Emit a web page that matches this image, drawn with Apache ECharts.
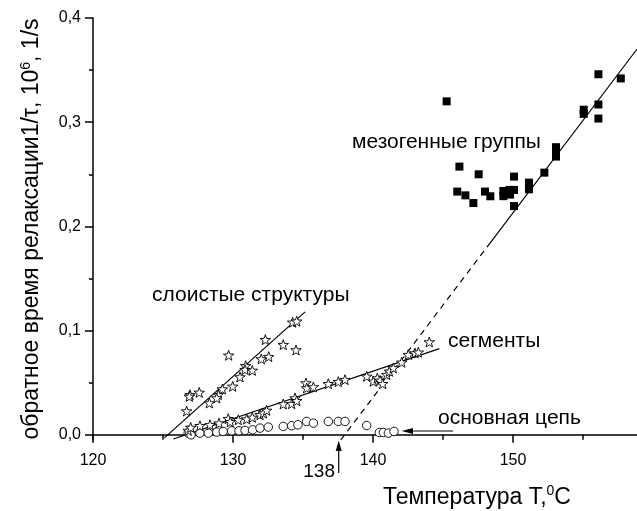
<!DOCTYPE html>
<html>
<head>
<meta charset="utf-8">
<script src="https://cdn.jsdelivr.net/npm/echarts@6/dist/echarts.min.js"></script>
<style>
  html, body { margin: 0; padding: 0; background: #fff; }
  #chart { width: 637px; height: 511px; }
</style>
</head>
<body>
<div id="chart"></div>
<script>
// мезогенные группы (filled squares)
const mesoT = [145.26, 156.1, 157.7, 156.1, 155.05, 155.05, 156.1, 153.07, 153.07, 153.07,
  152.24, 151.14, 151.14, 150.07, 150.07, 150.07, 149.79, 149.31, 149.31, 146.17,
  147.55, 146.02, 146.6, 147.17, 148.0, 148.38, 149.75]
const mesoV = [0.320, 0.346, 0.342, 0.317, 0.312, 0.308, 0.3035, 0.276, 0.271, 0.267,
  0.2516, 0.242, 0.2356, 0.2478, 0.235, 0.2195, 0.2305, 0.234, 0.229, 0.2574,
  0.250, 0.2334, 0.2298, 0.2224, 0.2334, 0.2289, 0.235]

// слоистые структуры (stars, steep branch)
const layerT = [134.26, 134.55, 132.31, 133.59, 134.5, 129.69, 132.02, 132.55, 130.9, 130.86,
  131.38, 130.5, 129.98, 129.24, 128.95, 128.84, 128.31, 126.93, 126.88, 127.59, 126.69]
const layerV = [0.108, 0.109, 0.0913, 0.0865, 0.0814, 0.0763, 0.0728, 0.075, 0.0663, 0.0625,
  0.0618, 0.0555, 0.0465, 0.0439, 0.0385, 0.0353, 0.0305, 0.0385, 0.0368, 0.0407, 0.0228]

// сегменты (stars, shallow branch)
const segT = [126.8, 126.98, 127.64, 128.36, 129.0, 129.66, 129.8, 130.38, 130.98, 131.38,
  131.93, 132.17, 132.4, 133.59, 134.19, 134.43, 134.55, 135.21, 135.26, 135.74,
  136.81, 137.52, 138.0, 139.55, 140.02, 140.31, 140.5, 140.69, 140.98, 141.17,
  141.45, 142.05, 142.52, 143.0, 143.24, 144.02]
const segV = [0.0041, 0.007, 0.0087, 0.0096, 0.0112, 0.0154, 0.0125, 0.0144, 0.0151, 0.0167,
  0.0192, 0.0208, 0.0234, 0.0295, 0.0298, 0.0353, 0.0327, 0.0497, 0.0449, 0.0459,
  0.049, 0.051, 0.0529, 0.0561, 0.0513, 0.0545, 0.0522, 0.049, 0.0577, 0.0609,
  0.0641, 0.0696, 0.0769, 0.0785, 0.0792, 0.0891]

// основная цепь (open circles)
const chainT = [126.8, 127.0, 127.64, 128.24, 128.84, 129.3, 129.9, 130.43, 130.86, 131.4,
  131.93, 132.52, 133.59, 134.19, 134.64, 135.26, 135.74, 136.81, 137.52, 138.0,
  139.55, 140.45, 140.74, 141.1, 141.5]
const chainV = [0.0016, 0.0, 0.0016, 0.0016, 0.0026, 0.0032, 0.0038, 0.0038, 0.0042, 0.0048,
  0.0064, 0.0074, 0.008, 0.0087, 0.0096, 0.0128, 0.0112, 0.0128, 0.0128, 0.0128,
  0.0089, 0.0022, 0.0022, 0.0016, 0.0032]

// fit lines (end points)
const layerFitT = [125.1, 135.15]
const layerFitV = [-0.003, 0.118]
const segFitT = [125.74, 144.74]
const segFitV = [-0.004, 0.0827]
const mesoDashT = [137.7, 148.36]
const mesoDashV = [-0.005, 0.184]
const mesoFitT = [148.36, 158.85]
const mesoFitV = [0.184, 0.370]

const xMajor = [120, 130, 140, 150]
const xMinor = [125, 135, 145, 155]
const yMajor = [0, 0.1, 0.2, 0.3, 0.4]
const yMinor = [0.05, 0.15, 0.25, 0.35]

const pairs = (a, b) => a.map((t, i) => [t, b[i]])

const FONT = 'Liberation Sans, Arial, sans-serif'
const STAR = 'path://M0,-10L2.35,-3.24L9.51,-3.09L3.8,1.24L5.88,8.09L0,4.2L-5.88,8.09L-3.8,1.24L-9.51,-3.09L-2.35,-3.24Z'

const myChart = echarts.init(document.getElementById('chart'))

const xBase = {
  type: 'value', min: 120, max: 158.857, position: 'bottom',
  splitLine: { show: false }
}
const yBase = {
  type: 'value', min: -0.005, max: 0.4, position: 'left',
  splitLine: { show: false }
}

function fitLine (t, v, dashed) {
  return {
    type: 'line', data: pairs(t, v), symbol: 'none', silent: true, z: 1,
    lineStyle: { color: '#000', width: 1.2, type: dashed ? [6, 5] : 'solid' }
  }
}

function marks (t, v, symbol, size, fill) {
  return {
    type: 'scatter', data: pairs(t, v), symbol: symbol, symbolSize: size, symbolKeepAspect: true, z: 3,
    itemStyle: { color: fill, borderColor: '#000', borderWidth: fill === '#000' ? 0 : 0.9, opacity: 1 }
  }
}

function label (text, x, y, size) {
  return {
    type: 'text', x: x, y: y,
    style: { text: text, font: size + 'px ' + FONT, fill: '#000', align: 'left', verticalAlign: 'middle' }
  }
}

myChart.setOption({
  animation: false,
  backgroundColor: '#fff',
  grid: { left: 93, right: 0, top: 18, bottom: 71 },
  xAxis: [
    Object.assign({}, xBase, {
      axisLine: { lineStyle: { color: '#000', width: 1.5 } },
      axisTick: { customValues: xMajor, length: 8, lineStyle: { color: '#000', width: 1.5 } },
      axisLabel: { customValues: xMajor, color: '#000', fontSize: 16, fontFamily: FONT, margin: 13 }
    }),
    Object.assign({}, xBase, {
      axisLine: { show: false },
      axisTick: { customValues: xMinor, length: 5, lineStyle: { color: '#000', width: 1.5 } },
      axisLabel: { show: false }
    })
  ],
  yAxis: [
    Object.assign({}, yBase, {
      axisLine: { lineStyle: { color: '#000', width: 1.5 } },
      axisTick: { customValues: yMajor, length: 8, lineStyle: { color: '#000', width: 1.5 } },
      axisLabel: {
        customValues: yMajor, color: '#000', fontSize: 16, fontFamily: FONT, margin: 12,
        formatter: v => v.toFixed(1).replace('.', ',')
      },
      name: '{a|обратное время релаксации1/τ, 10}{s|6}{a|, 1/s}',
      nameLocation: 'middle', nameGap: 48, nameRotate: 90,
      nameTextStyle: {
        rich: {
          a: { fontSize: 23, fontFamily: FONT, color: '#000', lineHeight: 26 },
          s: { fontSize: 14, fontFamily: FONT, color: '#000', lineHeight: 26, verticalAlign: 'top' }
        }
      }
    }),
    Object.assign({}, yBase, {
      axisLine: { show: false },
      axisTick: { customValues: yMinor, length: 4, lineStyle: { color: '#000', width: 1.5 } },
      axisLabel: { show: false }
    })
  ],
  series: [
    fitLine(layerFitT, layerFitV, false),
    fitLine(segFitT, segFitV, false),
    fitLine(mesoDashT, mesoDashV, true),
    fitLine(mesoFitT, mesoFitV, false),
    marks(chainT, chainV, 'circle', 8.5, '#fff'),
    marks(layerT, layerV, STAR, 10.5, '#fff'),
    marks(segT, segV, STAR, 10.5, '#fff'),
    marks(mesoT, mesoV, 'rect', 8, '#000')
  ],
  graphic: [
    label('мезогенные группы', 352, 142, 21),
    label('слоистые структуры', 152, 295, 21),
    label('сегменты', 448, 341, 21),
    label('основная цепь', 438, 418, 21),
    {
      type: 'text', x: 335, y: 472,
      style: { text: '138', font: '19px ' + FONT, fill: '#000', align: 'right', verticalAlign: 'middle' }
    },
    { type: 'line', shape: { x1: 338.7, y1: 473, x2: 338.7, y2: 446 }, style: { stroke: '#000', lineWidth: 1.2 } },
    { type: 'polygon', shape: { points: [[338.7, 440.5], [335.7, 451], [341.7, 451]] }, style: { fill: '#000' } },
    { type: 'line', shape: { x1: 453, y1: 431, x2: 408, y2: 431 }, style: { stroke: '#000', lineWidth: 1.2 } },
    { type: 'polygon', shape: { points: [[401.7, 431], [413, 428], [413, 434]] }, style: { fill: '#000' } },
    {
      type: 'text', x: 383, y: 498,
      style: {
        text: '{a|Температура T,}{s|0}{a|C}', verticalAlign: 'middle', align: 'left',
        rich: {
          a: { fontSize: 23, fontFamily: FONT, fill: '#000', lineHeight: 28 },
          s: { fontSize: 14, fontFamily: FONT, fill: '#000', lineHeight: 28, verticalAlign: 'top' }
        }
      }
    }
  ]
})
</script>
</body>
</html>
